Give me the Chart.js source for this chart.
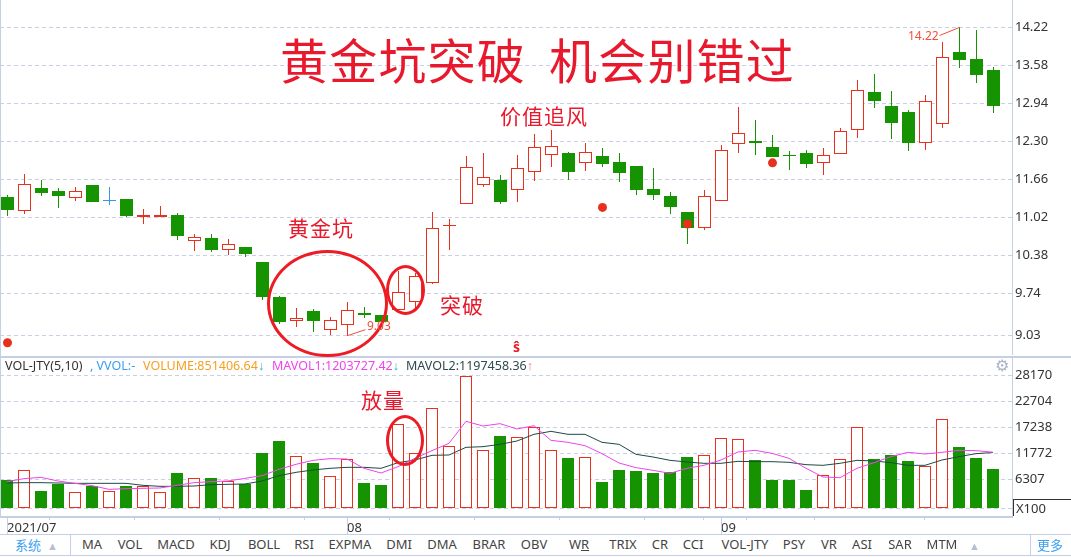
<!DOCTYPE html>
<html>
<head>
<meta charset="utf-8">
<title>VOL-JTY</title>
<script src="https://cdn.jsdelivr.net/npm/chart.js@4"></script>
<style>
html, body { margin: 0; padding: 0; background: #fff; overflow: hidden; }
#page { position: relative; width: 1071px; height: 557px; overflow: hidden; font-family: "Noto Sans", sans-serif; color: #333; }
canvas { position: absolute; left: 0; }
#priceChart { top: 0; }
#volChart { top: 358px; }
.t { position: absolute; white-space: nowrap; line-height: 1; }
.note { color: #e8192c; font-family: "Noto Sans CJK SC"; font-size: 21px; letter-spacing: 1px; }
.title { top: 34px; font-size: 48px; letter-spacing: 1.2px; color: #e8192c; font-family: "Noto Sans CJK SC"; }
.tab { top: 538px; font-size: 13px; color: #444; transform: translateX(-50%); }
.leg { top: 360px; font-size: 12.5px; }
.ring { position: absolute; border: 3px solid #ed1c24; border-radius: 50%; box-sizing: border-box; }
.rule { position: absolute; background: #c5d0e6; }
</style>
</head>
<body>
<div id="page">
  <canvas id="priceChart" width="1071" height="355"></canvas>
  <canvas id="volChart" width="1071" height="176"></canvas>

  <!-- moldura dos paineis -->
  <div class="rule" style="left:0;top:0;width:1px;height:518px"></div>
  <div class="rule" style="left:0;top:356px;width:1071px;height:2px"></div>
  <div class="rule" style="left:0;top:516px;width:1013px;height:2px"></div>
  <div class="rule" style="left:0;top:534px;width:1071px;height:1px"></div>
  <div class="rule" style="left:0;top:555px;width:1071px;height:1px"></div>
  <div class="rule" style="left:70px;top:535px;width:1px;height:20px"></div>
  <div class="rule" style="left:1030px;top:535px;width:1px;height:20px"></div>

  <!-- titulo e anotacoes -->
  <div class="t title" style="left:280px">黄金坑突破</div>
  <div class="t title" style="left:549px">机会别错过</div>
  <div class="t note" style="left:288px;top:217px">黄金坑</div>
  <div class="t note" style="left:500px;top:105px">价值追风</div>
  <div class="t note" style="left:440px;top:294px">突破</div>
  <div class="t note" style="left:361px;top:389px">放量</div>
  <div class="ring" style="left:267px;top:250px;width:121px;height:107px"></div>
  <div class="ring" style="left:386px;top:265px;width:39px;height:50px"></div>
  <div class="ring" style="left:386px;top:415px;width:38px;height:51px"></div>
  <div class="t" style="left:367px;top:320px;font-size:12px;color:#f0503c">9.03</div>
  <div class="t" style="left:908px;top:30px;font-size:12px;color:#f0503c">14.22</div>
  <div class="t" style="left:513px;top:340px;font-size:14px;font-weight:bold;color:#e8192c">ŝ</div>

  <!-- legenda do volume -->
  <div class="t leg" style="left:5px;color:#333">VOL-JTY(5,10)</div>
  <div class="t leg" style="left:90px;color:#3a9ff0">, VVOL:-</div>
  <div class="t leg" style="left:143px;color:#f5a024">VOLUME:851406.64<span style="color:#35b8c0">↓</span></div>
  <div class="t leg" style="left:272px;color:#ee44ee">MAVOL1:1203727.42<span style="color:#35b8c0">↓</span></div>
  <div class="t leg" style="left:406px;color:#2f4a50">MAVOL2:1197458.36<span style="color:#f08080">↑</span></div>
  <div class="t" style="left:995px;top:358px;font-size:16px;color:#a9b4c8;font-family:'DejaVu Sans'">⚙</div>

  <div class="t" style="left:1013px;top:499px;width:58px;height:17px;box-sizing:border-box;border-top:1px solid #333;border-left:1px solid #333;font-size:13px;padding:2px 0 0 2px;background:#fff">X100</div>

  <!-- barra de indicadores -->
  <div class="t" style="left:15px;top:538px;font-size:13px;color:#3a9ff0;font-family:'Noto Sans CJK SC'">系统</div>
  <div class="t" style="left:47px;top:540px;font-size:11px;color:#b4bfd0">▲</div>
  <div id="tabs"></div>
  <div class="t" style="left:969px;top:540px;font-size:11px;color:#b4bfd0">▲</div>
  <div class="t" style="left:1037px;top:538px;font-size:13px;color:#3a9ff0;font-family:'Noto Sans CJK SC'">更多</div>
</div>

<script>
// Dados (um valor por pregao)
var open = [11.37,11.13,11.52,11.47,11.34,11.57,11.30,11.33,11.03,11.02,
    11.06,10.63,10.68,10.48,10.52,10.27,9.68,9.27,9.45,9.13,
    9.21,9.41,9.38,9.47,9.59,9.92,10.89,11.25,11.57,11.65,
    11.49,11.79,12.08,12.11,11.93,12.06,11.96,11.89,11.50,11.38,
    11.11,10.85,11.29,12.25,12.30,12.21,12.07,12.11,11.93,12.09,
    12.50,13.13,12.90,12.80,12.28,12.60,13.81,13.69,13.50];
var close = [11.15,11.58,11.43,11.38,11.46,11.28,11.32,11.05,11.07,11.06,
    10.71,10.69,10.47,10.57,10.41,9.68,9.26,9.32,9.28,9.29,
    9.47,9.37,9.26,9.76,10.03,10.84,10.90,11.87,11.70,11.28,
    11.85,12.20,12.22,11.79,12.12,11.92,11.77,11.48,11.40,11.20,
    10.84,11.39,12.15,12.44,12.28,12.04,12.05,11.92,12.08,12.47,
    13.16,12.98,12.61,12.28,12.98,13.72,13.67,13.42,12.90];
var high = [11.40,11.75,11.65,11.52,11.53,11.57,11.53,11.33,11.16,11.21,
    11.10,10.74,10.74,10.66,10.52,10.27,9.70,9.50,9.48,9.34,
    9.60,9.51,9.38,10.12,10.08,11.11,11.00,12.06,12.11,11.74,
    12.07,12.43,12.49,12.12,12.28,12.19,12.11,11.89,11.85,11.45,
    11.11,11.48,12.24,12.88,12.66,12.41,12.14,12.16,12.19,12.53,
    13.34,13.44,13.15,12.83,13.08,13.98,14.22,14.18,13.56];
var low = [11.05,11.08,11.38,11.18,11.30,11.28,11.23,11.03,10.91,11.02,
    10.64,10.46,10.44,10.39,10.36,9.63,9.23,9.18,9.09,9.04,
    9.03,9.33,9.26,9.47,9.50,9.90,10.47,11.25,11.53,11.25,
    11.28,11.64,11.87,11.65,11.80,11.87,11.62,11.40,11.32,11.08,
    10.57,10.81,11.29,12.11,12.07,12.04,11.82,11.85,11.74,12.09,
    12.36,12.86,12.34,12.14,12.16,12.53,13.54,13.29,12.78];
var volume = [6196,8228,3884,5355,3604,4935,3814,4935,4865,3604,
    7668,6546,6617,5916,5285,11872,14394,11171,9770,6967,
    10540,5565,5145,17898,11802,21261,13273,28128,12432,15445,
    15165,17337,12432,10821,10961,5776,8298,8088,7668,7808,
    11031,11381,14955,14745,10400,6196,6196,4094,7177,10540,
    17267,10610,11451,10190,9069,18949,13133,10821,8514];
var mavol1 = [5846,6476,6757,5986,5495,5005,4234,4374,4444,4514,
    5075,5636,5846,5986,6546,7107,8438,9489,10330,10681,
    10611,8649,7668,8999,10751,12362,13904,18528,17547,18038,
    16917,17618,14534,14114,13413,11732,9770,8789,8228,7598,
    8649,9279,10400,12082,12432,11802,10751,8649,6827,6687,
    8649,9840,11101,12012,11662,12012,12432,12362,12037];
var mavol2 = [5565,5636,5636,5565,5495,5495,5495,5495,5075,4865,
    4865,4935,5215,5285,5355,5986,7107,7808,8298,8649,
    8859,8859,8649,9840,10400,11381,11451,13063,13203,13694,
    14394,15796,16426,15796,15796,14114,13694,11592,11031,10330,
    9980,9700,9700,10120,10050,10050,9910,9419,9279,9700,
    10330,10190,9840,9279,9279,10400,11101,11732,11975];

var priceTicks = [14.22, 13.58, 12.94, 12.30, 11.66, 11.02, 10.38, 9.74, 9.03];
var volumeTicks = [28170, 22704, 17238, 11772, 6307, 100];
var volumeBase = 100;

// sinais vermelhos do grafico de precos
var signalIndex = [0, 35, 40, 45];
var signalPrice = [8.91, 11.19, 10.91, 11.94];

var dojiBlue = 6;
var highIndex = 56, lowIndex = 20;

var dateTicks = [0, 5, 10, 15, 20, 25, 30, 35, 40, 42, 45, 50, 58];
var monthIndex = [0, 20, 42];
var monthLabels = ["2021/07", "08", "09"];

var tabNames = ["MA","VOL","MACD","KDJ","BOLL","RSI","EXPMA","DMI","DMA","BRAR","OBV","WR","TRIX","CR","CCI","VOL-JTY","PSY","VR","ASI","SAR","MTM"];
var tabCenters = [92,130,176,220,264,304,350,399,442,489,534,579,623,660,693,745,794,829,862,900,942];

var RED = "#e9301c", GREEN = "#169300", BLUE = "#3a94ee", GRID = "#c8d0e4", AXIS = "#c5d0e6";
var indexes = open.map(function (v, i) { return i; });

tabNames.forEach(function (name, i) {
    var el = document.createElement("div");
    el.className = "t tab";
    el.style.left = tabCenters[i] + "px";
    el.textContent = name;
    if (name === "WR") el.innerHTML = 'W<u>R</u>';
    document.getElementById("tabs").appendChild(el);
});

function isUp(i) { return close[i] >= open[i]; }
function candleColor(i) {
    if (i === dojiBlue) return BLUE;
    return isUp(i) ? RED : GREEN;
}

function yAxis(ticks, min, max, fmt) {
    return {
        position: "right",
        min: min,
        max: max,
        afterBuildTicks: function (s) { s.ticks = ticks.map(function (v) { return { value: v }; }); },
        afterFit: function (s) { s.width = 59; s.paddingTop = 0; s.paddingBottom = 0; },
        grid: { color: GRID, lineWidth: 1, drawTicks: false, tickLength: 0 },
        border: { color: AXIS, dash: [4, 3], display: true },
        ticks: {
            autoSkip: false, padding: 3, color: "#333",
            font: { family: "Noto Sans", size: 13 },
            callback: fmt
        }
    };
}

// encaixa as barras em pixel inteiro, como no terminal original
var pixelSnap = {
    id: "pixelSnap",
    afterDatasetsUpdate: function (chart) {
        chart.data.datasets.forEach(function (ds, k) {
            var meta = chart.getDatasetMeta(k);
            if (meta.type !== "bar") return;
            meta.data.forEach(function (el) {
                el.x = (el.width % 2) ? Math.floor(el.x) + 0.5 : Math.round(el.x);
                el.y = Math.round(el.y);
                el.base = Math.round(el.base);
                if (el.base === el.y) el.base = el.y + 1;
            });
        });
    }
};

// linhas finas ligando maximo e minimo ao seu rotulo
var extremeLines = {
    id: "extremeLines",
    afterDatasetsDraw: function (chart) {
        var c = chart.ctx, x = chart.scales.x, y = chart.scales.y;
        c.save();
        c.strokeStyle = "#f0503c";
        c.lineWidth = 1;
        c.beginPath();
        c.moveTo(x.getPixelForValue(highIndex), y.getPixelForValue(high[highIndex]));
        c.lineTo(x.getPixelForValue(highIndex) - 20, y.getPixelForValue(high[highIndex]) + 8);
        c.moveTo(x.getPixelForValue(lowIndex), y.getPixelForValue(low[lowIndex]));
        c.lineTo(x.getPixelForValue(lowIndex) + 18, y.getPixelForValue(low[lowIndex]) - 6);
        c.stroke();
        c.restore();
    }
};

new Chart(document.getElementById("priceChart"), {
    type: "bar",
    plugins: [pixelSnap, extremeLines],
    data: {
        datasets: [{
            label: "sinal",
            type: "line",
            order: 0,
            showLine: false,
            data: signalIndex.map(function (v, k) { return { x: v, y: signalPrice[k] }; }),
            pointRadius: 4.5,
            pointBackgroundColor: RED,
            pointBorderWidth: 0
        }, {
            label: "corpo",
            order: 1,
            grouped: false,
            barThickness: 13,
            inflateAmount: 0,
            borderSkipped: false,
            data: indexes.map(function (i) { return { x: i, y: [open[i], close[i]] }; }),
            backgroundColor: function (c) {
                var i = c.dataIndex;
                return (isUp(i) && i !== dojiBlue) ? "#fff" : candleColor(i);
            },
            borderColor: function (c) { return candleColor(c.dataIndex); },
            borderWidth: function (c) { return (isUp(c.dataIndex) && c.dataIndex !== dojiBlue) ? 1 : 0; }
        }, {
            label: "pavio",
            order: 2,
            grouped: false,
            barThickness: 1,
            inflateAmount: 0,
            data: indexes.map(function (i) { return { x: i, y: [low[i], high[i]] }; }),
            backgroundColor: function (c) { return candleColor(c.dataIndex); },
            borderWidth: 0
        }]
    },
    options: {
        responsive: false,
        maintainAspectRatio: false,
        animation: false,
        layout: { padding: 0, autoPadding: false },
        plugins: { legend: { display: false }, tooltip: { enabled: false } },
        scales: {
            // 17px por pregao, centro do primeiro em 7.5px
            x: { type: "linear", display: false, min: -0.441, max: 59.088, offset: false, grid: { display: false } },
            y: yAxis(priceTicks, 8.704, 14.683, function (v) { return v.toFixed(2); })
        }
    }
});

// marcas longas nas viradas de mes
var monthMarks = {
    id: "monthMarks",
    afterDraw: function (chart) {
        var c = chart.ctx, x = chart.scales.x;
        c.save();
        c.strokeStyle = AXIS;
        c.lineWidth = 1;
        c.beginPath();
        monthIndex.forEach(function (i) {
            var px = Math.round(x.getPixelForValue(i)) + 0.5;
            c.moveTo(px, chart.chartArea.bottom);
            c.lineTo(px, chart.chartArea.bottom + 17);
        });
        c.stroke();
        c.restore();
    }
};

new Chart(document.getElementById("volChart"), {
    type: "bar",
    plugins: [pixelSnap, monthMarks],
    data: {
        datasets: [{
            label: "MAVOL1",
            type: "line",
            order: 0,
            data: indexes.map(function (i) { return { x: i, y: mavol1[i] }; }),
            borderColor: "#ee44ee",
            borderWidth: 1,
            pointRadius: 0,
            tension: 0
        }, {
            label: "MAVOL2",
            type: "line",
            order: 1,
            data: indexes.map(function (i) { return { x: i, y: mavol2[i] }; }),
            borderColor: "#1d4a44",
            borderWidth: 1,
            pointRadius: 0,
            tension: 0
        }, {
            label: "VOLUME",
            order: 2,
            barThickness: 12,
            inflateAmount: 0,
            borderSkipped: false,
            base: volumeBase,
            data: indexes.map(function (i) { return { x: i, y: volume[i] }; }),
            backgroundColor: function (c) { return isUp(c.dataIndex) ? "#fff" : GREEN; },
            borderColor: function (c) { return isUp(c.dataIndex) ? RED : GREEN; },
            borderWidth: function (c) { return isUp(c.dataIndex) ? 1 : 0; }
        }]
    },
    options: {
        responsive: false,
        maintainAspectRatio: false,
        animation: false,
        layout: { padding: 0, autoPadding: false },
        plugins: { legend: { display: false }, tooltip: { enabled: false } },
        scales: {
            x: {
                type: "linear",
                min: -0.412,
                max: 59.118,
                offset: false,
                border: { display: false },
                afterBuildTicks: function (s) { s.ticks = dateTicks.map(function (v) { return { value: v }; }); },
                afterFit: function (s) { s.height = 17; s.paddingLeft = 0; s.paddingRight = 0; },
                grid: { display: true, drawOnChartArea: false, drawTicks: true, tickLength: 3, color: AXIS },
                ticks: {
                    autoSkip: false, maxRotation: 0, align: "start", padding: 0, color: "#333",
                    font: { family: "Noto Sans", size: 13 },
                    callback: function (v) {
                        var k = monthIndex.indexOf(v);
                        return k >= 0 ? monthLabels[k] : "";
                    }
                }
            },
            y: yAxis(volumeTicks, -1582, 31840, function (v) { return v === volumeBase ? "" : String(v); })
        }
    }
});
</script>
</body>
</html>
